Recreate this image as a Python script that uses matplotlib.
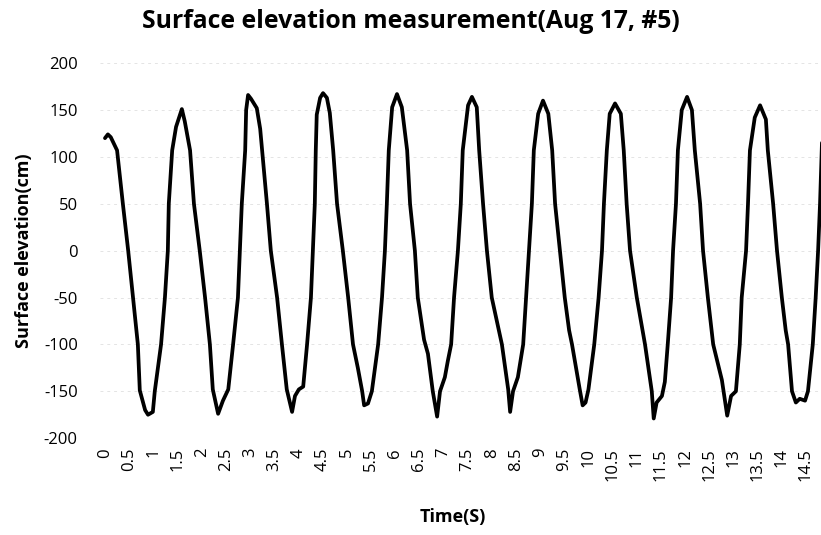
import matplotlib
matplotlib.use("Agg")
import matplotlib.pyplot as plt
import numpy as np

plt.rcParams['font.family'] = ['Open Sans', 'DejaVu Sans']
plt.rcParams['axes.unicode_minus'] = False

# Surface elevation record, time in seconds and elevation in cm
time_s = [
    0.00, 0.06, 0.12, 0.25, 0.37, 0.48, 0.58, 0.68, 0.72, 0.83, 0.89, 0.99,
    1.03, 1.16, 1.24, 1.30, 1.32, 1.39, 1.47, 1.59, 1.65, 1.76, 1.84, 1.96,
    2.07, 2.17, 2.23, 2.34, 2.44, 2.55, 2.65, 2.75, 2.79, 2.83, 2.90, 2.92,
    2.96, 3.02, 3.14, 3.21, 3.25, 3.35, 3.43, 3.56, 3.66, 3.76, 3.87, 3.93,
    4.01, 4.10, 4.18, 4.26, 4.30, 4.34, 4.36, 4.38, 4.45, 4.51, 4.59, 4.65,
    4.72, 4.80, 4.92, 5.03, 5.13, 5.23, 5.32, 5.36, 5.44, 5.52, 5.65, 5.73,
    5.79, 5.83, 5.87, 5.94, 6.04, 6.14, 6.25, 6.31, 6.41, 6.47, 6.60, 6.68,
    6.78, 6.87, 6.93, 7.03, 7.09, 7.16, 7.22, 7.30, 7.36, 7.40, 7.51, 7.59,
    7.69, 7.74, 7.82, 7.90, 8.00, 8.21, 8.34, 8.38, 8.44, 8.54, 8.65, 8.71,
    8.77, 8.83, 8.87, 8.96, 9.06, 9.17, 9.25, 9.31, 9.41, 9.51, 9.60, 9.66,
    9.82, 9.88, 9.94, 10.00, 10.12, 10.21, 10.28, 10.32, 10.38, 10.44, 10.55,
    10.67, 10.73, 10.79, 10.86, 11.00, 11.17, 11.31, 11.35, 11.41, 11.52,
    11.58, 11.64, 11.71, 11.75, 11.81, 11.85, 11.93, 12.04, 12.14, 12.20,
    12.31, 12.37, 12.47, 12.58, 12.76, 12.87, 12.95, 13.05, 13.13, 13.17,
    13.26, 13.30, 13.34, 13.44, 13.55, 13.67, 13.71, 13.82, 13.90, 14.00,
    14.08, 14.13, 14.21, 14.29, 14.37, 14.48, 14.54, 14.64, 14.70, 14.75,
    14.79, 14.83,
]
elevation_cm = [
    120, 124, 121, 107, 50, 0, -50, -100, -149, -170, -175, -172,
    -150, -100, -50, 0, 50, 107, 132, 151, 138, 107, 50, 0,
    -50, -100, -148, -174, -160, -148, -100, -50, 0, 50, 107, 150,
    166, 162, 152, 130, 107, 50, 0, -50, -100, -148, -172, -155,
    -148, -145, -100, -50, 0, 50, 107, 145, 163, 168, 163, 147,
    107, 50, 0, -50, -100, -125, -150, -165, -163, -150, -100, -50,
    0, 50, 107, 153, 167, 153, 107, 50, 0, -50, -95, -110,
    -150, -177, -150, -135, -118, -100, -50, 0, 50, 107, 155, 164,
    153, 107, 50, 0, -50, -100, -148, -172, -150, -135, -100, -50,
    0, 50, 107, 146, 160, 146, 107, 50, 0, -50, -85, -100,
    -148, -165, -162, -148, -100, -50, 0, 50, 107, 146, 157,
    146, 107, 50, 0, -50, -100, -150, -179, -162, -155,
    -140, -100, -50, 0, 50, 107, 150, 164, 150, 107,
    50, 0, -50, -100, -138, -176, -155, -150, -100, -50,
    0, 50, 107, 142, 155, 140, 107, 50, 0, -50,
    -85, -100, -150, -162, -158, -160, -150, -100, -50, 0,
    50, 115,
]

x_ticks = [i * 0.5 for i in range(30)]
x_tick_labels = ['0', '0.5', '1', '1.5', '2', '2.5', '3', '3.5', '4', '4.5',
                 '5', '5.5', '6', '6.5', '7', '7.5', '8', '8.5', '9', '9.5',
                 '10', '10.5', '11', '11.5', '12', '12.5', '13', '13.5', '14', '14.5']
y_ticks = [-200, -150, -100, -50, 0, 50, 100, 150, 200]

fig = plt.figure(figsize=(8.21, 5.35), dpi=100)
ax = fig.add_axes([0.1218, 0.181, 0.8782, 0.701])

ax.plot(time_s, elevation_cm, color='black', linewidth=2.7,
        solid_joinstyle='round', solid_capstyle='round', zorder=3)

ax.set_xlim(-0.103, 14.81)
ax.set_ylim(-200, 200)
ax.set_xticks(x_ticks)
ax.set_xticklabels(x_tick_labels, rotation=90, ha='center', va='top')
ax.set_yticks(y_ticks)
ax.tick_params(axis='both', length=0, labelsize=12, colors='black')
ax.tick_params(axis='y', pad=16)
ax.tick_params(axis='x', pad=7)

ax.yaxis.grid(True, color='#e4e4e4', linewidth=0.7, linestyle=(0, (3, 4)))
ax.set_axisbelow(True)
for side in ax.spines.values():
    side.set_visible(False)

fig.text(0.501, 0.984, 'Surface elevation measurement(Aug 17, #5)',
         ha='center', va='top', fontsize=17.8, fontweight='bold')
ax.set_xlabel('Time(S)', fontsize=13, fontweight='bold')
ax.set_ylabel('Surface elevation(cm)', fontsize=13, fontweight='bold', labelpad=8)
ax.xaxis.set_label_coords(0.49, -0.185)

fig.savefig('out.png', dpi=100)
